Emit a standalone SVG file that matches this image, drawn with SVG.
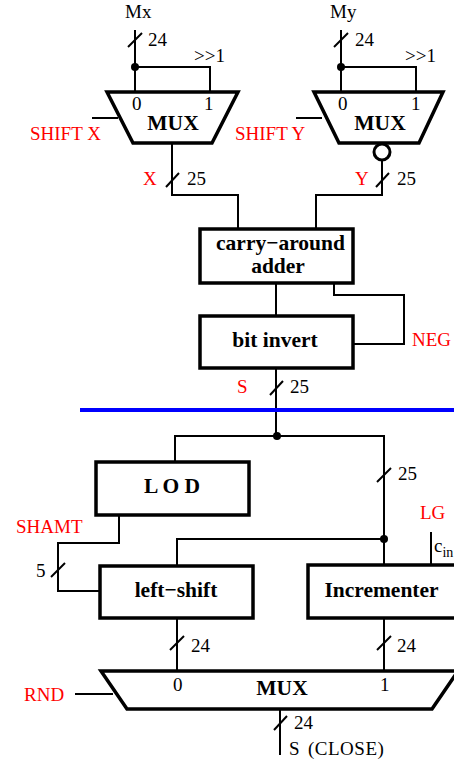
<svg xmlns="http://www.w3.org/2000/svg" width="454" height="761" viewBox="0 0 454 761">
<style>
.box{fill:#fff;stroke:#000;stroke-width:3.5}
.w{fill:none;stroke:#000;stroke-width:2}
.t{font-family:"Liberation Serif",serif;font-size:19px;fill:#000}
.b{font-family:"Liberation Serif",serif;font-size:21.5px;font-weight:bold;fill:#000;text-anchor:middle}
.r{font-family:"Liberation Serif",serif;font-size:19px;fill:#f00}
.dot{fill:#000}
</style>
<rect width="454" height="761" fill="#fff"/>
<g id="connectors">
<path class="w" d="M135 30V92M135 67H210V92"/>
<path class="w" d="M128 47L142 33"/>
<path class="w" d="M341 30V92M341 67H416V92"/>
<path class="w" d="M334 47L348 33"/>
<path class="w" d="M92 118H118"/>
<path class="w" d="M296 118H322"/>
<path class="w" d="M172 143V195H238V229"/>
<path class="w" d="M166 187L179 173"/>
<path class="w" d="M382 161V195H316V229"/>
<path class="w" d="M376 187L389 173"/>
<path class="w" d="M276 283V316"/>
<path class="w" d="M334 283V295H404V344H353"/>
<path class="w" d="M276 368V436"/>
<path class="w" d="M270 395L283 381"/>
<path class="w" d="M175 462V436H384V565"/>
<path class="w" d="M377 482L391 468"/>
<path class="w" d="M177 566V539H384"/>
<path class="w" d="M119 515V543H58V591H100"/>
<path class="w" d="M51 577L65 563"/>
<path class="w" d="M431 532V565"/>
<path class="w" d="M177 618V671"/>
<path class="w" d="M170 650L184 636"/>
<path class="w" d="M384 618V671"/>
<path class="w" d="M377 650L391 636"/>
<path class="w" d="M75 694H113"/>
<path class="w" d="M280 709V755"/>
<path class="w" d="M274 730L287 716"/>
<circle class="dot" cx="135" cy="67" r="4"/>
<circle class="dot" cx="341" cy="67" r="4"/>
<circle class="dot" cx="277" cy="436" r="4"/>
<circle class="dot" cx="384" cy="539" r="4"/>
<line x1="80" y1="410" x2="454" y2="410" stroke="#00f" stroke-width="4"/>
</g>
<g id="labels">
<text class="t" x="125" y="18">Mx</text>
<text class="t" x="148" y="46">24</text>
<text class="t" x="194" y="62">&gt;&gt;1</text>
<text class="t" x="330" y="18">My</text>
<text class="t" x="355" y="46">24</text>
<text class="t" x="405" y="62">&gt;&gt;1</text>
<text class="r" x="30" y="140">SHIFT X</text>
<text class="r" x="235" y="140">SHIFT Y</text>
<text class="r" x="143" y="185">X</text>
<text class="t" x="187" y="185">25</text>
<text class="r" x="355" y="185">Y</text>
<text class="t" x="397" y="185">25</text>
<text class="r" x="412" y="346">NEG</text>
<text class="r" x="237" y="393">S</text>
<text class="t" x="290" y="393">25</text>
<text class="t" x="398" y="480">25</text>
<text class="r" x="16" y="533">SHAMT</text>
<text class="t" x="36" y="577">5</text>
<text class="r" x="420" y="519">LG</text>
<text class="t" x="434" y="552">c<tspan font-size="14" dy="5">in</tspan></text>
<text class="t" x="191" y="652">24</text>
<text class="t" x="397" y="652">24</text>
<text class="r" x="24" y="701">RND</text>
<text class="t" x="294" y="729">24</text>
<text class="t" x="289" y="755">S</text>
<text class="t" x="308" y="755" font-size="16" letter-spacing="0.5">(CLOSE)</text>
</g>
<g id="muxx">
<path class="box" d="M107 92H238L212 143H133Z"/>
<text class="t" x="132" y="110">0</text>
<text class="t" x="204" y="110">1</text>
<text class="b" x="173" y="130">MUX</text>
</g>
<g id="muxy">
<path class="box" d="M314 92H443L419 143H339Z"/>
<text class="t" x="338" y="110">0</text>
<text class="t" x="411" y="110">1</text>
<text class="b" x="380" y="130">MUX</text>
<circle cx="382" cy="152" r="8" fill="#fff" stroke="#000" stroke-width="3"/>
</g>
<g id="adder">
<rect class="box" x="200" y="229" width="153" height="54"/>
<text class="b" x="280.5" y="250">carry−around</text>
<text class="b" x="278" y="273">adder</text>
</g>
<g id="bitinvert">
<rect class="box" x="200" y="316" width="153" height="52"/>
<text class="b" x="275" y="347">bit invert</text>
</g>
<g id="lod">
<rect class="box" x="96" y="462" width="153" height="53"/>
<text class="b" x="172" y="493">L O D</text>
</g>
<g id="leftshift">
<rect class="box" x="100" y="566" width="153" height="52"/>
<text class="b" x="176" y="597">left−shift</text>
</g>
<g id="incrementer">
<rect class="box" x="308" y="565" width="160" height="53"/>
<text class="b" x="381.5" y="597">Incrementer</text>
</g>
<g id="mux2">
<path class="box" d="M101 671H458L432 709H127Z"/>
<text class="t" x="173" y="691">0</text>
<text class="t" x="380" y="691">1</text>
<text class="b" x="282" y="695">MUX</text>
</g>
</svg>
